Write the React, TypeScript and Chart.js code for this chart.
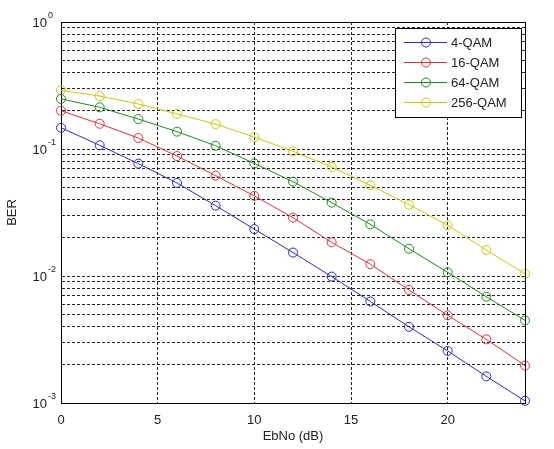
import React, { useEffect, useRef } from "react";
import { Chart, registerables } from "chart.js";

Chart.register(...registerables);

// ---- data ----
const ebnoDb = [0, 2, 4, 6, 8, 10, 12, 14, 16, 18, 20, 22, 24];
const ber4qam = [0.147, 0.107, 0.0767, 0.054, 0.0358, 0.0234, 0.0153, 0.0099, 0.0063, 0.00398, 0.00257, 0.00162, 0.00104];
const ber16qam = [0.2, 0.158, 0.122, 0.088, 0.0617, 0.0427, 0.0288, 0.0184, 0.0124, 0.00776, 0.0049, 0.00317, 0.00197];
const ber64qam = [0.248, 0.213, 0.172, 0.137, 0.106, 0.077, 0.0553, 0.0378, 0.0255, 0.0164, 0.0107, 0.00687, 0.00447];
const ber256qam = [0.29, 0.261, 0.226, 0.189, 0.157, 0.124, 0.096, 0.0722, 0.0518, 0.0364, 0.0251, 0.016, 0.0104];

const seriesLabels = ["4-QAM", "16-QAM", "64-QAM", "256-QAM"];
const seriesValues = [ber4qam, ber16qam, ber64qam, ber256qam];
const seriesColors = ["#2a2ad0", "#e0303c", "#1f8a1f", "#c8c810"];

const xTickValues = [0, 5, 10, 15, 20];
const yMajorExponents = [-3, -2, -1, 0];
const yMinorMultipliers = [2, 3, 4, 5, 6, 7, 8, 9];

const FONT = "'Liberation Sans', Arial, sans-serif";

function buildYTicks() {
  const out: number[] = [];
  for (let i = 0; i < yMajorExponents.length; i++) {
    const e = yMajorExponents[i];
    out.push(Math.pow(10, e));
    if (i < yMajorExponents.length - 1) {
      for (const m of yMinorMultipliers) out.push(m * Math.pow(10, e));
    }
  }
  return out;
}

const overlayPlugin = {
  id: "matlabOverlay",
  afterDraw(chart: any) {
    const { ctx, chartArea, scales } = chart;
    const ys = scales.y;
    ctx.save();
    // frame (top and right)
    ctx.strokeStyle = "#000";
    ctx.lineWidth = 1;
    ctx.setLineDash([]);
    ctx.beginPath();
    ctx.moveTo(chartArea.left, chartArea.top + 0.5);
    ctx.lineTo(chartArea.right, chartArea.top + 0.5);
    ctx.moveTo(chartArea.right + 0.5, chartArea.top);
    ctx.lineTo(chartArea.right + 0.5, chartArea.bottom);
    ctx.stroke();

    // y tick labels with superscripts
    ctx.fillStyle = "#222";
    for (const e of yMajorExponents) {
      const y = ys.getPixelForValue(Math.pow(10, e));
      ctx.font = `13px ${FONT}`;
      ctx.textAlign = "right";
      ctx.textBaseline = "middle";
      ctx.fillText("10", chartArea.left - 14, y + 1);
      ctx.font = `9px ${FONT}`;
      ctx.textAlign = "left";
      ctx.fillText(String(e), chartArea.left - 13, y - 6);
    }

    // legend
    const bx = chartArea.right - 130;
    const by = chartArea.top + 6;
    const bw = 126;
    const bh = 89;
    ctx.fillStyle = "#fff";
    ctx.fillRect(bx, by, bw, bh);
    ctx.strokeStyle = "#000";
    ctx.lineWidth = 1;
    ctx.strokeRect(bx + 0.5, by + 0.5, bw, bh);
    chart.data.datasets.forEach((ds: any, i: number) => {
      const ry = by + 14 + i * 20;
      ctx.strokeStyle = ds.borderColor;
      ctx.lineWidth = 1;
      ctx.beginPath();
      ctx.moveTo(bx + 9, ry + 0.5);
      ctx.lineTo(bx + 52, ry + 0.5);
      ctx.stroke();
      ctx.beginPath();
      ctx.arc(bx + 31, ry + 0.5, 4.5, 0, Math.PI * 2);
      ctx.stroke();
      ctx.fillStyle = "#222";
      ctx.font = `13px ${FONT}`;
      ctx.textAlign = "left";
      ctx.textBaseline = "middle";
      ctx.fillText(ds.label, bx + 56, ry + 1);
    });
    ctx.restore();
  },
};

export default function App() {
  const canvasRef = useRef<HTMLCanvasElement | null>(null);

  useEffect(() => {
    document.body.style.margin = "0";
    const canvas = canvasRef.current;
    if (!canvas) return;
    const yTicks = buildYTicks();
    const chart = new Chart(canvas, {
      type: "line",
      data: {
        datasets: seriesLabels.map((label, i) => ({
          label,
          data: ebnoDb.map((x, j) => ({ x, y: seriesValues[i][j] })),
          borderColor: seriesColors[i],
          backgroundColor: "transparent",
          borderWidth: 1,
          pointRadius: 4.5,
          pointHoverRadius: 4.5,
          pointBorderWidth: 1,
          pointBorderColor: seriesColors[i],
          pointBackgroundColor: "transparent",
          pointStyle: "circle",
          tension: 0,
          fill: false,
          clip: false,
        })),
      },
      options: {
        animation: false,
        responsive: true,
        maintainAspectRatio: false,
        events: [],
        layout: { padding: { top: 22, right: 29, left: 0, bottom: 0 } },
        plugins: {
          legend: { display: false },
          tooltip: { enabled: false },
          title: { display: false },
        },
        scales: {
          x: {
            type: "linear",
            min: 0,
            max: 24,
            afterBuildTicks: (scale: any) => {
              scale.ticks = xTickValues.map((v) => ({ value: v }));
            },
            afterFit: (scale: any) => {
              scale.height = 46;
            },
            ticks: {
              autoSkip: false,
              maxRotation: 0,
              padding: 10,
              color: "#222",
              font: { family: FONT, size: 13 },
              callback: (v: any) => String(v),
            },
            grid: {
              color: "rgba(0,0,0,0.85)",
              lineWidth: 1,
              drawTicks: false,
            },
            border: { display: true, color: "#000", width: 1, dash: [3, 2] },
            title: {
              display: true,
              text: "EbNo (dB)",
              color: "#222",
              font: { family: FONT, size: 13 },
              padding: { top: 0, bottom: 5 },
            },
          },
          y: {
            type: "logarithmic",
            min: 0.001,
            max: 1,
            afterBuildTicks: (scale: any) => {
              scale.ticks = yTicks.map((v) => ({ value: v }));
            },
            afterFit: (scale: any) => {
              scale.width = 61;
            },
            ticks: { display: false, autoSkip: false },
            grid: {
              color: "rgba(0,0,0,0.85)",
              lineWidth: 1,
              drawTicks: false,
            },
            border: { display: true, color: "#000", width: 1, dash: [3, 2] },
            title: {
              display: true,
              text: "BER",
              color: "#222",
              font: { family: FONT, size: 13 },
              padding: { top: 5, bottom: 0 },
            },
          },
        },
      },
      plugins: [overlayPlugin],
    } as any);
    return () => chart.destroy();
  }, []);

  return (
    <div style={{ width: 554, height: 449, position: "relative", background: "#fff" }}>
      <canvas ref={canvasRef} />
    </div>
  );
}
